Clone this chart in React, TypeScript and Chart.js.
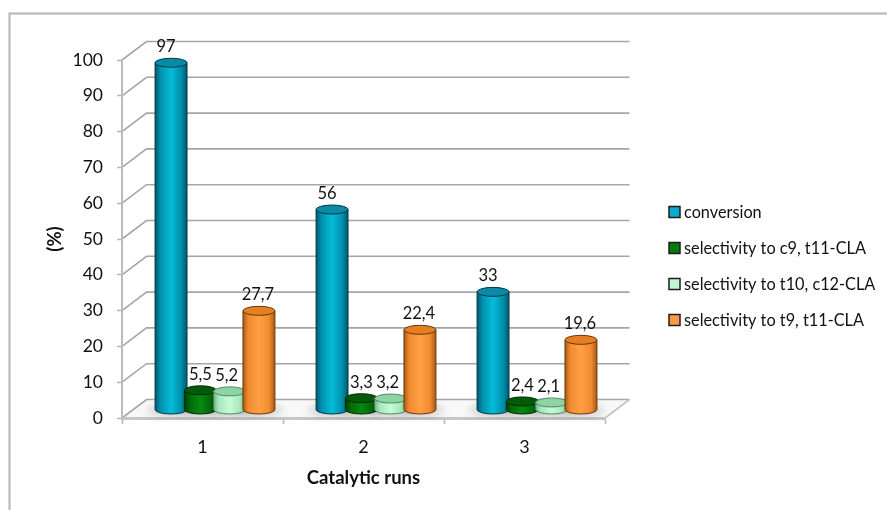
import React, { useEffect, useRef } from "react";
import { Chart, registerables } from "chart.js";

Chart.register(...registerables);

const runs = ["1", "2", "3"];
const seriesNames = [
  "conversion",
  "selectivity to c9, t11-CLA",
  "selectivity to t10, c12-CLA",
  "selectivity to t9, t11-CLA",
];
const conversion = [97, 56, 33];
const selectivityC9 = [5.5, 3.3, 2.4];
const selectivityT10 = [5.2, 3.2, 2.1];
const selectivityT9 = [27.7, 22.4, 19.6];

const swatches = ["#08aecb", "#047a0c", "#bff8d0", "#ff9a3e"];
const bright = ["#06bcd9", "#068a10", "#c6fad6", "#ffa044"];
const shaded = ["#008fab", "#03680a", "#a6e8bc", "#f08a30"];
const edges = ["#00566c", "#013f05", "#6fb98a", "#a85a12"];
const lids = ["#0a8aa6", "#035a08", "#8fd3a4", "#e57f22"];
const outlines = ["#003a4a", "#012c03", "#4d8a63", "#6b3806"];
const labelShift = [-5, 0, -3, -1];

const FONT = "Lato, 'Open Sans', sans-serif";

// Oblique offset of the back wall relative to the front plane of the axes.
const DEPTH_X = 24.5;
const DEPTH_Y = -18.5;
// Where the bars stand, between the front plane and the back wall.
const BAR_X = 12.5;
const BAR_Y = -8;

const commaText = (v: number) => String(v).replace(".", ",");

const cylinders = {
  id: "cylinders",
  beforeDraw(chart: any) {
    const { ctx, chartArea: a, scales } = chart;
    const y = scales.y;
    ctx.save();
    // outer frame
    ctx.strokeStyle = "#b4b4b4";
    ctx.lineWidth = 2;
    ctx.beginPath();
    ctx.moveTo(887, 13.5);
    ctx.lineTo(9.5, 13.5);
    ctx.lineTo(9.5, 510);
    ctx.stroke();
    // floor
    const y0 = y.getPixelForValue(0);
    ctx.fillStyle = "#f8f8f8";
    ctx.beginPath();
    ctx.moveTo(a.left, y0);
    ctx.lineTo(a.left + DEPTH_X, y0 + DEPTH_Y);
    ctx.lineTo(a.right + DEPTH_X, y0 + DEPTH_Y);
    ctx.lineTo(a.right, y0);
    ctx.closePath();
    ctx.fill();
    // wall grid lines and their slanted returns to the axis
    ctx.lineWidth = 1.6;
    ctx.strokeStyle = "#a6a6a6";
    y.ticks.forEach((t: any) => {
      const p = y.getPixelForValue(t.value);
      ctx.beginPath();
      ctx.moveTo(a.left, p);
      ctx.lineTo(a.left + DEPTH_X, p + DEPTH_Y);
      ctx.lineTo(a.right + DEPTH_X, p + DEPTH_Y);
      ctx.stroke();
    });
    // right edge of the floor
    ctx.strokeStyle = "#c4c4c4";
    ctx.beginPath();
    ctx.moveTo(a.right, y0);
    ctx.lineTo(a.right + DEPTH_X, y0 + DEPTH_Y);
    ctx.stroke();
    ctx.restore();
  },
  beforeDatasetsDraw(chart: any) {
    const { ctx } = chart;
    ctx.save();
    ctx.filter = "blur(4px)";
    ctx.fillStyle = "rgba(110,110,110,0.4)";
    chart.data.datasets.forEach((_: any, i: number) => {
      chart.getDatasetMeta(i).data.forEach((el: any) => {
        const cx = el.x + BAR_X;
        const by = el.base + BAR_Y;
        ctx.beginPath();
        ctx.ellipse(cx, by + 1, el.width * 0.72, 4.5, 0, 0, Math.PI * 2);
        ctx.fill();
      });
    });
    ctx.restore();
  },
  beforeDatasetDraw() {
    // the rounded columns replace the flat rectangles
    return false;
  },
  afterDatasetsDraw(chart: any) {
    const { ctx } = chart;
    ctx.save();
    chart.data.datasets.forEach((ds: any, i: number) => {
      chart.getDatasetMeta(i).data.forEach((el: any, k: number) => {
        const cx = el.x + BAR_X;
        const top = el.y + BAR_Y;
        const bottom = el.base + BAR_Y;
        const rx = el.width / 2;
        const ry = 4.5;
        const grad = ctx.createLinearGradient(cx - rx, 0, cx + rx, 0);
        grad.addColorStop(0, edges[i]);
        grad.addColorStop(0.16, shaded[i]);
        grad.addColorStop(0.5, bright[i]);
        grad.addColorStop(0.82, shaded[i]);
        grad.addColorStop(1, edges[i]);
        ctx.fillStyle = grad;
        ctx.strokeStyle = outlines[i];
        ctx.lineWidth = 1;
        ctx.beginPath();
        ctx.moveTo(cx - rx, top);
        ctx.lineTo(cx - rx, bottom);
        ctx.ellipse(cx, bottom, rx, ry, 0, Math.PI, 0, true);
        ctx.lineTo(cx + rx, top);
        ctx.closePath();
        ctx.fill();
        ctx.stroke();
        ctx.fillStyle = lids[i];
        ctx.beginPath();
        ctx.ellipse(cx, top, rx, ry, 0, 0, Math.PI * 2);
        ctx.fill();
        ctx.stroke();
        // value above each column
        ctx.fillStyle = "#111";
        ctx.font = `16.5px ${FONT}`;
        ctx.textAlign = "center";
        ctx.textBaseline = "middle";
        ctx.fillText(commaText(ds.data[k]), cx + labelShift[i], top - 16);
      });
    });
    ctx.restore();
  },
  afterDraw(chart: any) {
    // series key at the right of the plot
    const { ctx } = chart;
    ctx.save();
    ctx.font = `16.3px ${FONT}`;
    ctx.textAlign = "left";
    ctx.textBaseline = "middle";
    chart.data.datasets.forEach((ds: any, i: number) => {
      const cy = 212 + i * 36;
      ctx.fillStyle = swatches[i];
      ctx.strokeStyle = "#1c1c1c";
      ctx.lineWidth = 1.5;
      ctx.fillRect(669, cy - 5.5, 11, 11);
      ctx.strokeRect(669, cy - 5.5, 11, 11);
      ctx.fillStyle = "#111";
      ctx.fillText(ds.label, 684, cy + 1);
    });
    ctx.restore();
  },
};

export default function App() {
  const ref = useRef<HTMLCanvasElement>(null);
  useEffect(() => {
    const series = [conversion, selectivityC9, selectivityT10, selectivityT9];
    const chart = new Chart(ref.current!, {
      type: "bar",
      data: {
        labels: runs,
        datasets: series.map((data, i) => ({
          label: seriesNames[i],
          data,
          backgroundColor: swatches[i],
          categoryPercentage: 0.728,
          barPercentage: 1.09,
        })),
      },
      plugins: [cylinders],
      options: {
        responsive: false,
        animation: false,
        layout: { padding: { top: 60, bottom: 20, left: 0, right: 282 } },
        plugins: { legend: { display: false }, tooltip: { enabled: false } },
        scales: {
          x: {
            afterFit(s: any) {
              s.height = 72;
            },
            grid: { drawOnChartArea: false, tickLength: 6, tickColor: "#b4b4b4", tickWidth: 1.5 },
            border: { color: "#c6c6c6", width: 3 },
            ticks: { color: "#111", font: { family: FONT, size: 18 }, padding: 12 },
            title: {
              display: true,
              text: "Catalytic runs",
              color: "#111",
              font: { family: FONT, size: 18.5, weight: "bold" },
              padding: { top: 0, bottom: 1 },
            },
          },
          y: {
            min: 0,
            max: 100,
            afterFit(s: any) {
              s.width = 122;
            },
            grid: { drawOnChartArea: false, tickLength: 5, tickColor: "#b4b4b4", tickWidth: 1.5 },
            border: { color: "#bcbcbc", width: 2 },
            ticks: { stepSize: 10, color: "#111", font: { family: FONT, size: 17.5 }, padding: 14 },
            title: {
              display: true,
              text: "(%)",
              color: "#111",
              font: { family: FONT, size: 18.5, weight: "bold" },
              padding: { top: 44, bottom: 0 },
            },
          },
        },
      },
    });
    return () => chart.destroy();
  }, []);
  return (
    <div style={{ position: "fixed", left: 0, top: 0, background: "#fff" }}>
      <canvas ref={ref} width={887} height={510} style={{ display: "block" }} />
    </div>
  );
}
